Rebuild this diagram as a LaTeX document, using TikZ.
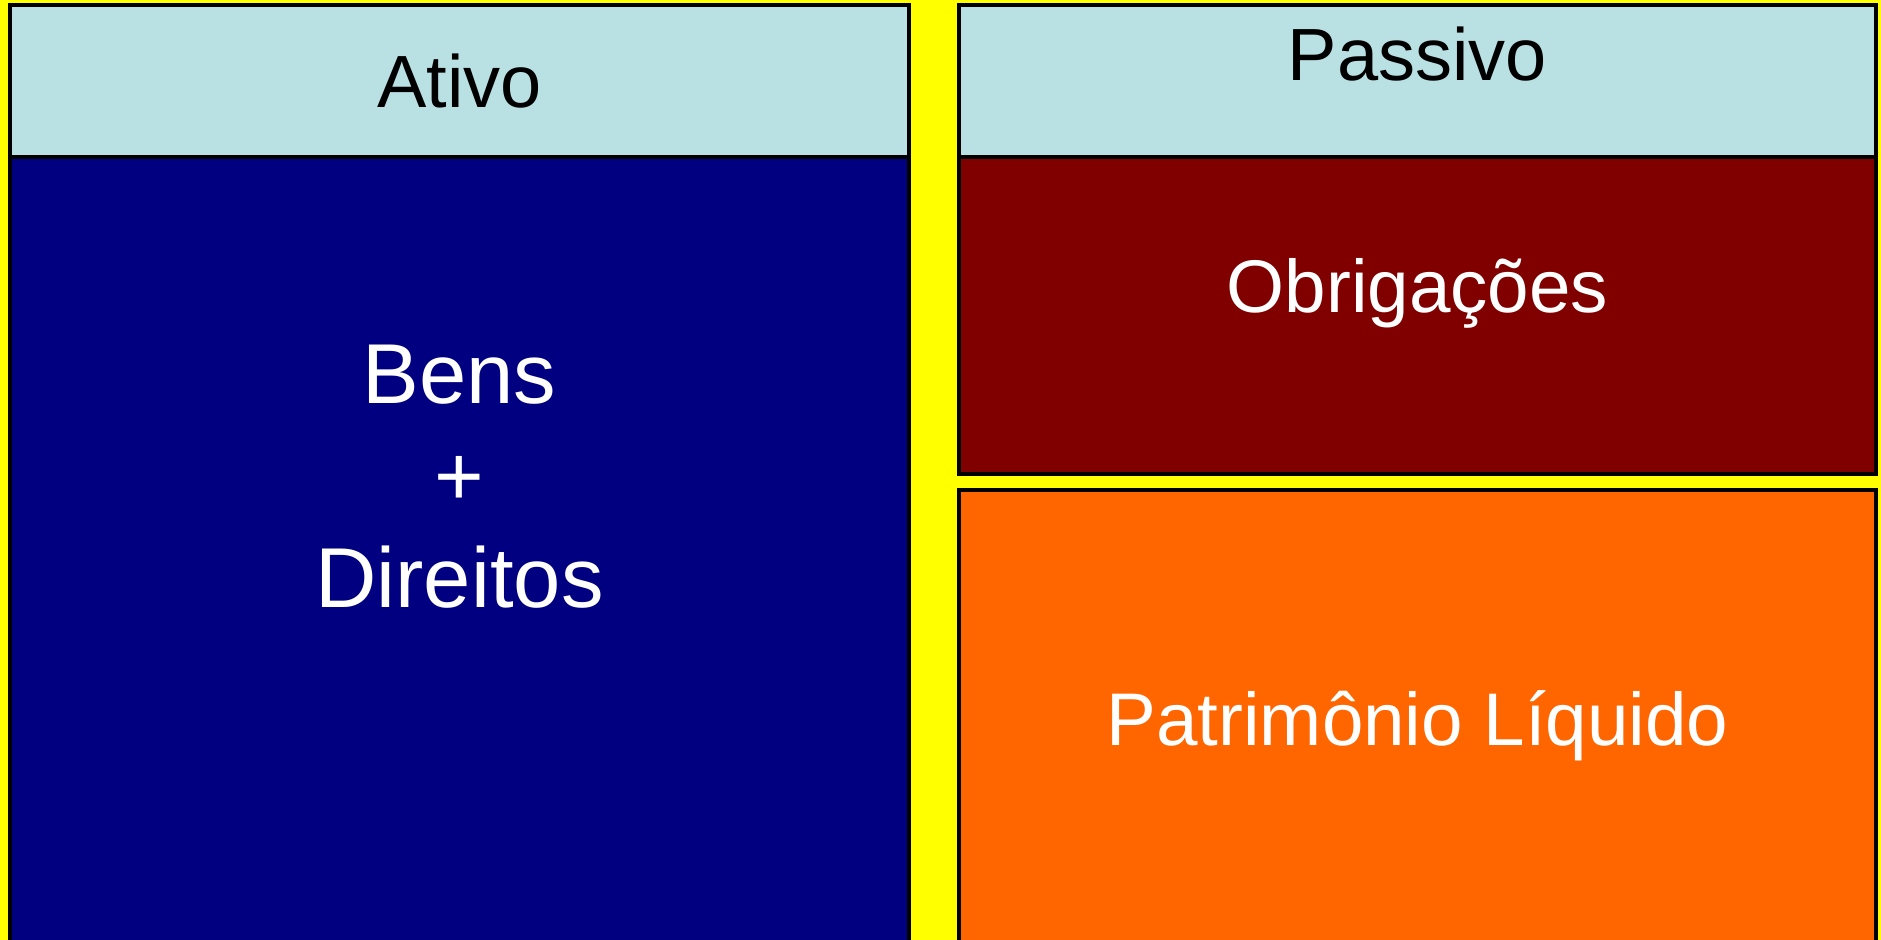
\documentclass[tikz,border=0pt]{standalone}
\usepackage{fontspec}
\setmainfont{Liberation Sans}
\definecolor{bgyellow}{RGB}{255,255,0}
\definecolor{headblue}{RGB}{185,224,227}
\definecolor{navy}{RGB}{0,0,128}
\definecolor{maroon}{RGB}{128,0,0}
\definecolor{orangebox}{RGB}{255,102,0}
\begin{document}
\begin{tikzpicture}[x=0.5pt,y=-0.5pt,
  panel/.style={draw=black,line width=2pt},
  headtext/.style={anchor=base,inner sep=0pt,text=black,font=\fontsize{37pt}{44pt}\selectfont},
  bodytext/.style={anchor=base,inner sep=0pt,text=white,font=\fontsize{37.3pt}{44pt}\selectfont},
  bigtext/.style={anchor=base,inner sep=0pt,text=white,font=\fontsize{42.5pt}{51pt}\selectfont}]
\useasboundingbox (0,0) rectangle (1881,940);
\clip (0,0) rectangle (1881,940);
\fill[bgyellow] (0,0) rectangle (1881,940);
% left column
\draw[panel,fill=navy] (10,157) rectangle (909,960);
\draw[panel,fill=headblue] (10,5) rectangle (909,157);
% right column
\draw[panel,fill=maroon] (959,157) rectangle (1876,474);
\draw[panel,fill=headblue] (959,5) rectangle (1876,157);
\draw[panel,fill=orangebox] (959,490) rectangle (1876,960);
% texts
\node[headtext] (ativo) at (459.5,108) {Ativo};
\node[headtext] (passivo) at (1417.5,81) {Passivo};
\node[bodytext] (obrig) at (1417.5,313) {Obrigações};
\node[bodytext] (pl) at (1417.5,746) {Patrimônio Líquido};
\node[bigtext] (bens) at (459.5,404) {Bens};
\node[bigtext] (plus) at (459.5,506) {+};
\node[bigtext] (dir) at (459.5,608) {Direitos};
\end{tikzpicture}
\end{document}
